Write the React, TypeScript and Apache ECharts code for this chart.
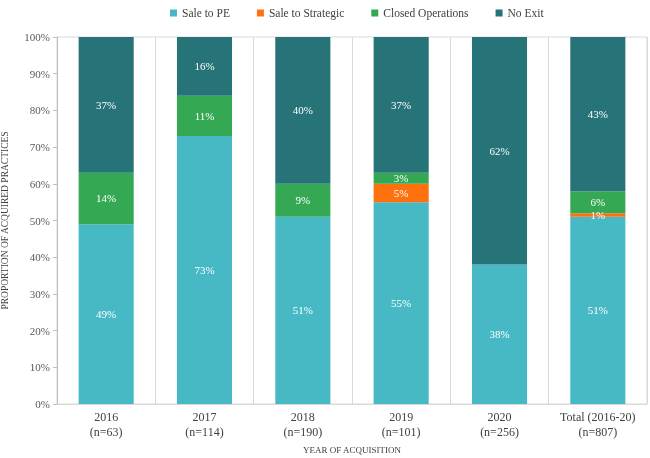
import React, { useEffect, useRef } from "react";
import * as echarts from "echarts";

const categories = ["2016\n(n=63)", "2017\n(n=114)", "2018\n(n=190)", "2019\n(n=101)", "2020\n(n=256)", "Total (2016-20)\n(n=807)"];
const saleToPE = [49, 73, 51, 55, 38, 51];
const saleToStrategic = [0, 0, 0, 5, 0, 1];
const closedOperations = [14, 11, 9, 3, 0, 6];
const noExit = [37, 16, 40, 37, 62, 43];
const yTicks = [0, 10, 20, 30, 40, 50, 60, 70, 80, 90, 100];

const SERIF = "Liberation Serif";

export default function App() {
  const ref = useRef<HTMLDivElement>(null);
  useEffect(() => {
    if (!ref.current) return;
    const chart = echarts.init(ref.current, null, { renderer: "svg" });
    const mk = (name: string, data: number[], color: string) => ({
      name,
      type: "bar",
      stack: "total",
      data,
      barWidth: "56%",
      itemStyle: { color },
      label: {
        show: true,
        position: "inside",
        color: "#ffffff",
        fontFamily: SERIF,
        fontSize: 11,
        formatter: (p: any) => (p.value ? p.value + "%" : ""),
      },
    });
    chart.setOption({
      animation: false,
      textStyle: { fontFamily: SERIF },
      legend: {
        top: 2,
        left: 165,
        icon: "rect",
        itemWidth: 7,
        itemHeight: 7,
        itemGap: 27,
        textStyle: { fontFamily: SERIF, fontSize: 11.5, color: "#404040" },
        data: ["Sale to PE", "Sale to Strategic", "Closed Operations", "No Exit"],
      },
      grid: {
        left: 57,
        right: 3,
        top: 37,
        bottom: 54,
        outerBoundsMode: "none",
        containLabel: false,
        show: true,
        borderColor: "#d9d9d9",
        borderWidth: 1,
      },
      xAxis: {
        type: "category",
        data: categories,
        axisLine: { show: true, lineStyle: { color: "#d9d9d9" } },
        axisTick: { show: false },
        splitLine: { show: true, interval: 0, lineStyle: { color: "#d9d9d9" } },
        axisLabel: {
          interval: 0,
          fontFamily: SERIF,
          fontSize: 12,
          color: "#404040",
          lineHeight: 15,
          margin: 5,
        },
        name: "YEAR OF ACQUISITION",
        nameLocation: "middle",
        nameGap: 41,
        nameMoveOverlap: false,
        nameTextStyle: { fontFamily: SERIF, fontSize: 9, color: "#404040" },
      },
      yAxis: {
        type: "value",
        min: yTicks[0],
        max: yTicks[yTicks.length - 1],
        interval: yTicks[1] - yTicks[0],
        axisLine: { show: true, lineStyle: { color: "#bfbfbf" } },
        axisTick: { show: true, length: 4, lineStyle: { color: "#bfbfbf" } },
        splitLine: { show: false },
        axisLabel: {
          fontFamily: SERIF,
          fontSize: 11,
          color: "#595959",
          margin: 7,
          formatter: "{value}%",
        },
        name: "PROPORTION OF ACQUIRED PRACTICES",
        nameLocation: "middle",
        nameRotate: 90,
        nameGap: 47,
        nameMoveOverlap: false,
        nameTextStyle: { fontFamily: SERIF, fontSize: 9.5, color: "#404040" },
      },
      series: [
        mk("Sale to PE", saleToPE, "#46B9C5"),
        mk("Sale to Strategic", saleToStrategic, "#FF700F"),
        mk("Closed Operations", closedOperations, "#34A853"),
        mk("No Exit", noExit, "#267378"),
      ],
    });
    return () => chart.dispose();
  }, []);
  return (
    <div
      ref={ref}
      style={{ position: "fixed", left: 0, top: 0, width: 650, height: 458 }}
    />
  );
}
